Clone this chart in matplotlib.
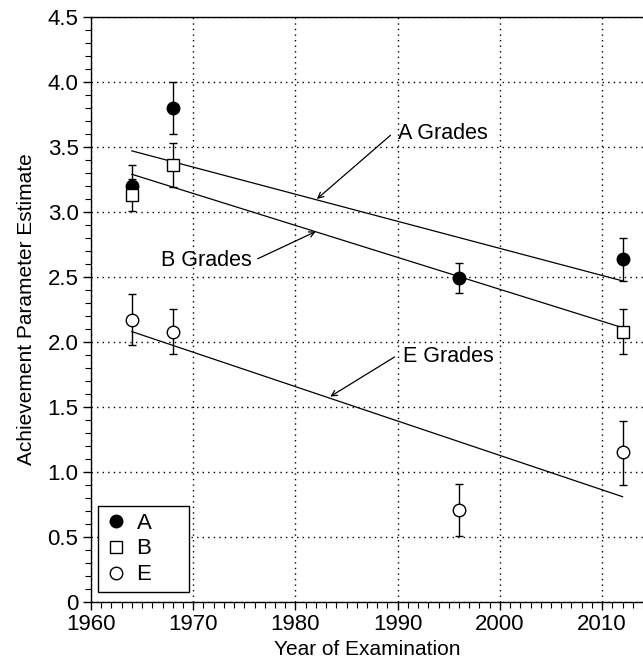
import matplotlib
matplotlib.use("Agg")
import matplotlib.pyplot as plt
from matplotlib.lines import Line2D
from matplotlib.ticker import MultipleLocator

plt.rcParams['font.family'] = ['Liberation Sans', 'DejaVu Sans']

# Data
years_a = [1964, 1968, 1996, 2012]
est_a = [3.20, 3.80, 2.49, 2.64]
err_lo_a = [0.05, 0.20, 0.11, 0.17]
err_hi_a = [0.05, 0.20, 0.12, 0.16]

years_b = [1964, 1968, 2012]
est_b = [3.13, 3.36, 2.08]
err_lo_b = [0.12, 0.17, 0.17]
err_hi_b = [0.23, 0.17, 0.17]

years_e = [1964, 1968, 1996, 2012]
est_e = [2.17, 2.08, 0.71, 1.15]
err_lo_e = [0.19, 0.17, 0.20, 0.25]
err_hi_e = [0.20, 0.17, 0.20, 0.24]

# fitted trend lines (endpoints)
fit_years = [1964, 2012]
fit_a = [3.47, 2.47]
fit_b = [3.29, 2.11]
fit_e = [2.08, 0.81]

fig = plt.figure(figsize=(6.43, 6.66), dpi=100)
ax = fig.add_axes([0.1415, 0.0961, 0.8585, 0.8784])

ax.set_xlim(1960, 2014)
ax.set_ylim(0, 4.5)

# grid
ax.grid(True, which='major', color='black', linestyle=(0, (1, 3)), linewidth=1.0)
ax.set_axisbelow(True)

# trend lines
ax.plot(fit_years, fit_a, color='black', lw=0.9)
ax.plot(fit_years, fit_b, color='black', lw=0.9)
ax.plot(fit_years, fit_e, color='black', lw=0.9)

ebkw = dict(ecolor='black', elinewidth=1.0, capsize=2.7, capthick=1.0, ls='none', ms=9, mew=1.0)
ax.errorbar(years_a, est_a, yerr=[err_lo_a, err_hi_a], fmt='o', mfc='black', mec='black',
            zorder=3, **ebkw)
ax.errorbar(years_b, est_b, yerr=[err_lo_b, err_hi_b], fmt='s', mfc='white', mec='black',
            zorder=4, **ebkw)
ax.errorbar(years_e, est_e, yerr=[err_lo_e, err_hi_e], fmt='o', mfc='white', mec='black',
            zorder=3, **ebkw)

# annotations
arrow = dict(arrowstyle='->', color='black', lw=0.9, shrinkA=0, shrinkB=0)
ax.text(1990.0, 3.60, 'A Grades', fontsize=15.5, va='center', ha='left')
ax.annotate('', xy=(1982.1, 3.10), xytext=(1989.3, 3.59), arrowprops=arrow)
ax.text(1975.7, 2.63, 'B Grades', fontsize=15.5, va='center', ha='right')
ax.annotate('', xy=(1982.0, 2.85), xytext=(1976.3, 2.64), arrowprops=arrow)
ax.text(1990.5, 1.885, 'E Grades', fontsize=15.5, va='center', ha='left')
ax.annotate('', xy=(1983.4, 1.58), xytext=(1989.7, 1.885), arrowprops=arrow)

# axes styling
ax.spines['right'].set_visible(False)
for s in ['left', 'bottom', 'top']:
    ax.spines[s].set_linewidth(1.0)
ax.xaxis.set_major_locator(MultipleLocator(10))
ax.xaxis.set_minor_locator(MultipleLocator(1))
ax.yaxis.set_minor_locator(MultipleLocator(0.1))
ax.set_yticks([0, 0.5, 1.0, 1.5, 2.0, 2.5, 3.0, 3.5, 4.0, 4.5])
ax.set_yticklabels(['0', '0.5', '1.0', '1.5', '2.0', '2.5', '3.0', '3.5', '4.0', '4.5'])
ax.tick_params(which='major', direction='out', length=6, width=1.0, labelsize=16,
               top=False, right=False, pad=3)
ax.tick_params(which='minor', direction='out', length=4, width=0.8, top=False, right=False)

ax.set_xlabel('Year of Examination', fontsize=15, labelpad=3)
ax.set_ylabel('Achievement Parameter Estimate', fontsize=15, labelpad=8)

# legend shows markers only, with extra room on the right like the original
handles = [
    Line2D([], [], ls='none', marker='o', ms=9, mfc='black', mec='black', label='A     '),
    Line2D([], [], ls='none', marker='s', ms=9, mfc='white', mec='black', label='B     '),
    Line2D([], [], ls='none', marker='o', ms=9, mfc='white', mec='black', label='E     '),
]
leg = ax.legend(handles=handles, loc='lower left', fontsize=16, frameon=True, fancybox=False,
                edgecolor='black', handlelength=1.0, handletextpad=0.45,
                borderpad=0.3, labelspacing=0.22, borderaxespad=0,
                bbox_to_anchor=(0.013, 0.017))
leg.get_frame().set_linewidth(1.0)
leg.get_frame().set_alpha(1.0)

fig.savefig('out.png', dpi=100)
